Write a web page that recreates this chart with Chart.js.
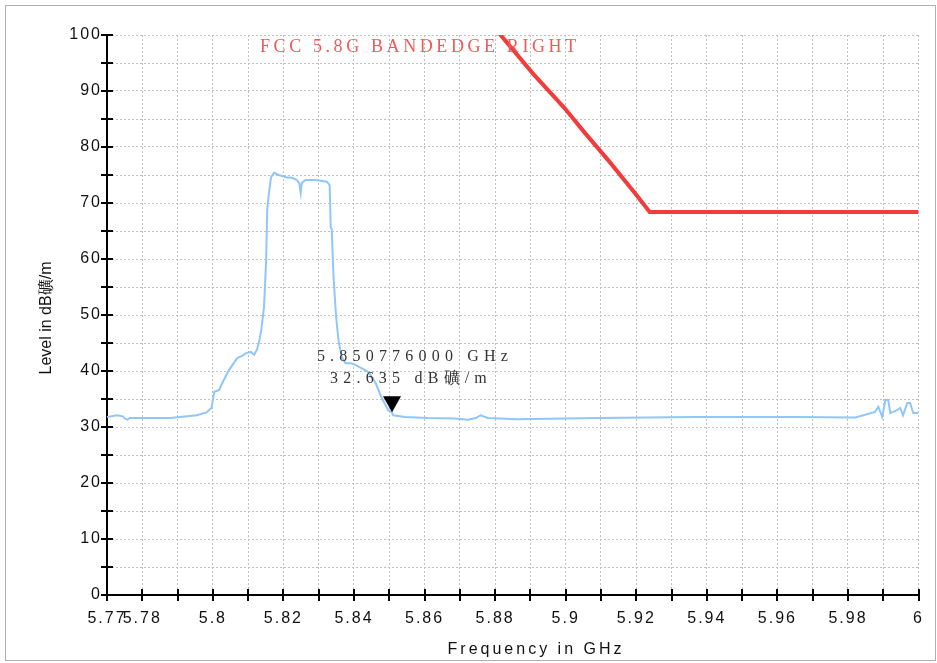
<!DOCTYPE html>
<html>
<head>
<meta charset="utf-8">
<script src="https://cdn.jsdelivr.net/npm/chart.js@4"></script>
<style>
  html, body { margin: 0; padding: 0; background: #fff; }
  #wrap { width: 937px; height: 663px; }
</style>
</head>
<body>
<div id="wrap"><canvas id="levelChart"></canvas></div>
<script>
// measured trace (GHz / dBuV/m)
const traceFreq = [5.7700, 5.7728, 5.7745, 5.7751, 5.7758, 5.7765, 5.7821, 5.7880, 5.7906, 5.7954,
    5.7982, 5.7996, 5.8000, 5.8004, 5.8018, 5.8024, 5.8046, 5.8069, 5.8083, 5.8094,
    5.8108, 5.8117, 5.8125, 5.8131, 5.8137, 5.8145, 5.8151, 5.8154, 5.8159, 5.8165,
    5.8173, 5.8187, 5.8207, 5.8224, 5.8238, 5.8245, 5.8249, 5.8252, 5.8263, 5.8292,
    5.8323, 5.8331, 5.8334, 5.8337, 5.8342, 5.8348, 5.8351, 5.8356, 5.8365, 5.8376,
    5.8390, 5.8404, 5.8421, 5.8441, 5.8461, 5.8477, 5.8497, 5.8508, 5.8511, 5.8545,
    5.8610, 5.8686, 5.8723, 5.8745, 5.8759, 5.8779, 5.8863, 5.9000, 5.9089, 5.9370,
    5.9652, 5.9821, 5.9877, 5.9886, 5.9897, 5.9906, 5.9914, 5.9920, 5.9928, 5.9939,
    5.9948, 5.9956, 5.9968, 5.9976, 5.9985, 6.0000];
const traceLevel = [31.8, 32.1, 31.9, 31.5, 31.3, 31.6, 31.6, 31.6, 31.8, 32.1,
    32.6, 33.4, 34.8, 36.3, 36.6, 37.5, 40.2, 42.3, 42.7, 43.2,
    43.4, 42.9, 43.8, 45.2, 47.3, 51.4, 59.8, 68.8, 71.8, 74.6,
    75.4, 75.0, 74.6, 74.5, 74.1, 73.5, 71.8, 73.6, 74.1, 74.1,
    73.8, 73.2, 65.7, 65.2, 56.8, 50.9, 48.6, 45.5, 42.5, 41.4,
    41.4, 41.1, 40.5, 39.8, 37.9, 35.4, 33.0, 32.6, 32.1, 31.8,
    31.6, 31.5, 31.3, 31.6, 32.1, 31.6, 31.4, 31.5, 31.6, 31.8,
    31.8, 31.7, 32.7, 33.6, 31.8, 34.8, 34.8, 32.5, 32.7, 33.0,
    33.4, 32.1, 34.3, 34.3, 32.5, 32.5];

// limit line
const limitFreq = [5.8813, 5.8906, 5.8996, 5.9052, 5.9125, 5.9201, 5.9238, 6.0];
const limitLevel = [100.2, 93.2, 87.0, 82.7, 77.3, 71.4, 68.4, 68.4];

const limitName = 'FCC 5.8G BANDEDGE RIGHT';
const markerFreq = 5.850776;
const markerLevel = 32.635;
const markerLines = ['5.850776000 GHz', '32.635 dB礦/m'];

const xTitle = 'Frequency in GHz';
const yTitle = 'Level in dB礦/m';

const toPoints = (xs, ys) => xs.map((x, i) => ({x: x, y: ys[i]}));

function spacedText(ctx, text, x, y, spacing) {
    ctx.letterSpacing = spacing + 'px';
    ctx.fillText(text, x, y);
}

const decorations = {
    id: 'decorations',
    beforeDraw(chart) {
        const c = chart.ctx;
        c.save();
        c.fillStyle = '#fff';
        c.fillRect(0, 0, chart.width, chart.height);
        c.strokeStyle = '#b0b0b0';
        c.lineWidth = 1;
        c.strokeRect(5.5, 5.5, 930, 655);
        c.restore();
        c.letterSpacing = '2px';
    },
    afterDraw(chart) {
        const c = chart.ctx;
        const xs = chart.scales.x, ys = chart.scales.y;
        const area = chart.chartArea;
        c.save();
        // tick marks crossing the axes
        c.strokeStyle = '#000';
        c.lineWidth = 2;
        c.beginPath();
        ys.ticks.forEach(t => {
            const py = Math.round(ys.getPixelForValue(t.value));
            c.moveTo(area.left - 6, py);
            c.lineTo(area.left + 6, py);
        });
        xs.ticks.forEach(t => {
            const px = Math.round(xs.getPixelForValue(t.value));
            c.moveTo(px, area.bottom - 6);
            c.lineTo(px, area.bottom + 6);
        });
        c.stroke();

        // axis titles
        c.fillStyle = '#111';
        c.font = '16px "Liberation Sans", Arial, sans-serif';
        c.textAlign = 'center';
        c.textBaseline = 'middle';
        spacedText(c, xTitle, 536, 650, 3);
        c.save();
        c.translate(47, 318);
        c.rotate(-Math.PI / 2);
        spacedText(c, yTitle, 0, 0, 0);
        c.restore();

        // limit name
        c.fillStyle = 'rgb(240, 90, 90)';
        c.font = '18px "Liberation Serif", "Times New Roman", serif';
        c.textAlign = 'left';
        c.textBaseline = 'alphabetic';
        spacedText(c, limitName, 260, 52, 3.6);

        // marker
        const mx = xs.getPixelForValue(markerFreq);
        const my = ys.getPixelForValue(markerLevel);
        c.fillStyle = '#000';
        c.beginPath();
        c.moveTo(mx - 9, my - 16);
        c.lineTo(mx + 9, my - 16);
        c.lineTo(mx, my);
        c.closePath();
        c.fill();

        c.fillStyle = '#333';
        c.font = '16px "Liberation Serif", "Times New Roman", serif';
        c.textAlign = 'center';
        spacedText(c, markerLines[0], mx + 23, my - 51, 5.2);
        spacedText(c, markerLines[1], mx + 19, my - 29, 5.2);
        c.restore();
    }
};

const ctx = document.getElementById('levelChart').getContext('2d');

const chart = new Chart(ctx, {
    type: 'line',
    data: {
        datasets: [{
            label: 'Trace',
            data: toPoints(traceFreq, traceLevel),
            borderColor: 'rgb(145, 198, 250)',
            borderWidth: 2,
            pointRadius: 0,
            tension: 0,
            fill: false,
        }, {
            label: limitName,
            data: toPoints(limitFreq, limitLevel),
            borderColor: 'rgb(240, 60, 60)',
            borderWidth: 4,
            pointRadius: 0,
            tension: 0,
            fill: false,
        }]
    },
    options: {
        responsive: true,
        maintainAspectRatio: false,
        animation: false,
        layout: {
            padding: {left: 7, right: 17, top: 35, bottom: 0}
        },
        plugins: {
            legend: {display: false},
            tooltip: {enabled: false}
        },
        scales: {
            x: {
                type: 'linear',
                min: 5.77,
                max: 6.0,
                afterFit: s => { s.height = 68; },
                grid: {
                    color: '#c0c0c0',
                    lineWidth: 1,
                    drawTicks: false
                },
                border: {
                    display: true,
                    color: '#000',
                    width: 2,
                    dash: [2, 2]
                },
                ticks: {
                    stepSize: 0.01,
                    autoSkip: false,
                    maxRotation: 0,
                    padding: 14,
                    color: '#111',
                    font: {family: '"Liberation Sans", Arial, sans-serif', size: 16},
                    callback: function(value) {
                        const v = Math.round(value * 100);
                        if (v === 577 || v === 578 || v % 2 === 0) {
                            return String(parseFloat(value.toFixed(2)));
                        }
                        return '';
                    }
                }
            },
            y: {
                min: 0,
                max: 100,
                afterFit: s => { s.width = 100; },
                grid: {
                    color: '#c0c0c0',
                    lineWidth: 1,
                    drawTicks: false
                },
                border: {
                    display: true,
                    color: '#000',
                    width: 2,
                    dash: [2, 2]
                },
                ticks: {
                    stepSize: 5,
                    autoSkip: false,
                    padding: 5,
                    color: '#111',
                    font: {family: '"Liberation Sans", Arial, sans-serif', size: 16},
                    callback: value => (value % 10 === 0 ? String(value) : '')
                }
            }
        }
    },
    plugins: [decorations]
});
</script>
</body>
</html>
